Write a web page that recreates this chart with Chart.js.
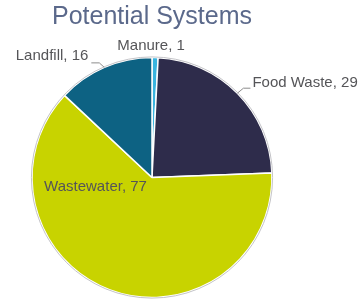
<!DOCTYPE html>
<html>
<head>
<meta charset="utf-8">
<script src="https://cdn.jsdelivr.net/npm/chart.js@4"></script>
<style>
  html, body { margin: 0; padding: 0; background: #fff; }
  #wrap { width: 363px; height: 301px; }
</style>
</head>
<body>
<div id="wrap"><canvas id="chart" width="363" height="301"></canvas></div>
<script>
// data
const title = 'Potential Systems';
const labels = ['Manure', 'Food Waste', 'Wastewater', 'Landfill'];
const values = [1, 29, 77, 16];
const colors = ['#3ab4df', '#2e2c4b', '#c8d300', '#0d6283'];

// label placement per slice (relative to the slice's outer edge / pie centre)
const labelPos = [
  { mode: 'top', dx: -4, dy: -12 },
  { mode: 'right', elbow: [6, -5], run: 7, gap: 2, dy: -5 },
  { mode: 'inside', dx: -56.5, dy: 9.5 },
  { mode: 'left', elbow: [-5, -4.5], run: -8, gap: 3, dy: -7 }
];

const sliceLabels = {
  id: 'sliceLabels',
  afterDatasetsDraw(chart) {
    const ctx = chart.ctx;
    const arcs = chart.getDatasetMeta(0).data;
    ctx.save();
    // thin grey rim round the pie
    const a0 = arcs[0];
    ctx.beginPath();
    ctx.arc(a0.x, a0.y, a0.outerRadius + 0.6, 0, Math.PI * 2);
    ctx.strokeStyle = '#c4c4c8';
    ctx.lineWidth = 1;
    ctx.stroke();

    ctx.font = '15px "Liberation Sans", Arial, sans-serif';
    ctx.fillStyle = '#555558';
    ctx.strokeStyle = '#8c8c8c';
    ctx.lineWidth = 1;
    ctx.textBaseline = 'middle';
    arcs.forEach((arc, i) => {
      const txt = labels[i] + ', ' + values[i];
      const mid = (arc.startAngle + arc.endAngle) / 2;
      const ex = arc.x + Math.cos(mid) * arc.outerRadius;
      const ey = arc.y + Math.sin(mid) * arc.outerRadius;
      const p = labelPos[i];
      if (p.mode === 'inside') {
        ctx.textAlign = 'center';
        ctx.fillText(txt, arc.x + p.dx, arc.y + p.dy);
      } else if (p.mode === 'top') {
        ctx.textAlign = 'center';
        ctx.fillText(txt, ex + p.dx, ey + p.dy);
      } else {
        const bx = ex + p.elbow[0], by = ey + p.elbow[1];
        const cx = bx + p.run;
        ctx.beginPath();
        ctx.moveTo(ex, ey);
        ctx.lineTo(bx, by);
        ctx.lineTo(cx, by);
        ctx.stroke();
        if (p.mode === 'right') {
          ctx.textAlign = 'left';
          ctx.fillText(txt, cx + p.gap, by + p.dy);
        } else {
          ctx.textAlign = 'right';
          ctx.fillText(txt, cx - p.gap, by + p.dy);
        }
      }
    });
    ctx.restore();
  }
};

const chart = new Chart(document.getElementById('chart'), {
  type: 'pie',
  data: {
    labels: labels,
    datasets: [{
      data: values,
      backgroundColor: colors,
      borderColor: '#ffffff',
      borderWidth: 1.5,
      radius: 120
    }]
  },
  options: {
    responsive: false,
    animation: false,
    layout: { padding: { top: 0, left: 32, right: 91, bottom: 3 } },
    plugins: {
      legend: { display: false },
      tooltip: { enabled: false },
      title: {
        display: true,
        text: title,
        fullSize: false,
        color: '#5b698b',
        font: { family: '"Liberation Sans", Arial, sans-serif', size: 25, weight: 'normal' },
        padding: { top: 2, bottom: 25 }
      }
    }
  },
  plugins: [sliceLabels]
});
</script>
</body>
</html>
